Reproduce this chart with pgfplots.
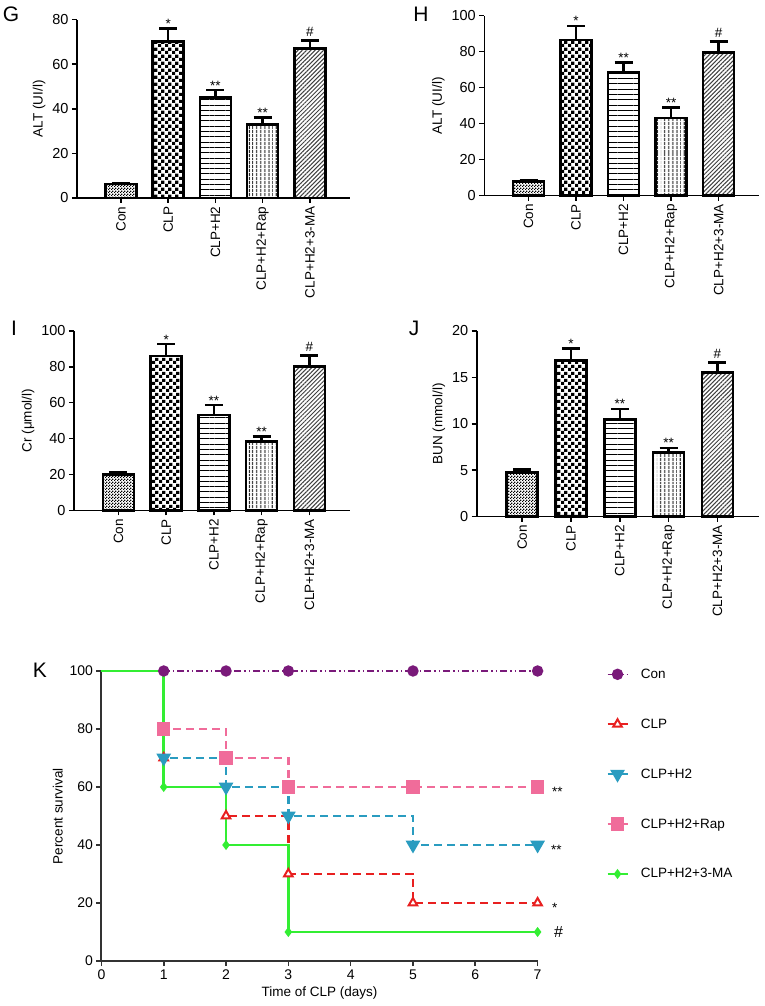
\documentclass[border=0pt]{standalone}
\usepackage{fontspec}
\setmainfont{Liberation Sans}
\usepackage{pgfplots}
\pgfplotsset{compat=1.18}
\usetikzlibrary{patterns,patterns.meta}

\newcommand\fs{\fontsize{13.5}{16}\selectfont}
\newcommand\fn{\fontsize{14.5}{17}\selectfont}

% small and large checkerboards for the bars
\pgfdeclarepatternformonly{finecheck}{\pgfqpoint{0pt}{0pt}}{\pgfqpoint{3pt}{3pt}}{\pgfqpoint{3pt}{3pt}}{%
  \pgfpathrectangle{\pgfqpoint{0pt}{0pt}}{\pgfqpoint{1.5pt}{1.5pt}}%
  \pgfpathrectangle{\pgfqpoint{1.5pt}{1.5pt}}{\pgfqpoint{1.5pt}{1.5pt}}%
  \pgfusepath{fill}}
\pgfdeclarepatternformonly{bigcheck}{\pgfqpoint{0pt}{0pt}}{\pgfqpoint{6.6pt}{6.6pt}}{\pgfqpoint{6.6pt}{6.6pt}}{%
  \pgfpathrectangle{\pgfqpoint{0pt}{0pt}}{\pgfqpoint{3.3pt}{3.3pt}}%
  \pgfpathrectangle{\pgfqpoint{3.3pt}{3.3pt}}{\pgfqpoint{3.3pt}{3.3pt}}%
  \pgfusepath{fill}}

\definecolor{cpurple}{RGB}{122,26,122}
\definecolor{cred}{RGB}{232,32,32}
\definecolor{cteal}{RGB}{42,156,192}
\definecolor{cpink}{RGB}{240,108,154}
\definecolor{cgreen}{RGB}{51,238,51}

\tikzset{sig/.style={font=\fs, anchor=base}}

\pgfplotsset{
  barax/.style={
    scale only axis,
    xmin=-0.93, xmax=4.85, ymin=0,
    axis x line=bottom, axis y line=left,
    axis line style={line width=1.6pt,-},
    tick style={line width=1.6pt,black},
    tick align=outside, major tick length=5pt,
    xtick={0,...,4},
    xticklabels={Con,CLP,CLP+H2,CLP+H2+Rap,CLP+H2+3-MA},
    xticklabel style={rotate=90,anchor=east,font=\fs},
    yticklabel style={font=\fn},
    label style={font=\fs},
    /pgf/number format/assume math mode=true,
    clip=false
  },
  bar/.style={
    ybar, bar width=31pt, bar shift=0pt,
    draw=black, line width=2.6pt,
    error bars/y dir=plus, error bars/y explicit,
    error bars/error bar style={line width=2.6pt,black},
    error bars/error mark options={line width=2.6pt,black,mark size=9pt,rotate=90}
  }
}

\begin{document}
\begin{tikzpicture}[x=1pt,y=1pt]
\useasboundingbox (0,0) rectangle (765,1006);

% panel labels
\node[font=\fontsize{21}{24}\selectfont] at (11,992) {G};
\node[font=\fontsize{21}{24}\selectfont] at (421,992) {H};
\node[font=\fontsize{21}{24}\selectfont] at (14,678) {I};
\node[font=\fontsize{21}{24}\selectfont] at (414,678) {J};
\node[font=\fontsize{21}{24}\selectfont] at (40,336) {K};

% G
\begin{axis}[barax, at={(77pt,808pt)}, anchor=south west,
  width=273pt, height=178.3pt, ymax=80, ytick={0,20,...,80},
  ylabel={ALT (UI/l)}]
\addplot[bar, pattern=finecheck] coordinates {(0,6.3) +- (0,0.5)};
\addplot[bar, pattern=bigcheck] coordinates {(1,70.1) +- (0,6)};
\addplot[bar, pattern={Lines[angle=0,distance=5.3pt,line width=0.9pt]}] coordinates {(2,45.2) +- (0,3.2)};
\addplot[bar, pattern={Lines[angle=90,distance=4pt,line width=1pt]}] coordinates {(3,33.1) +- (0,3)};
\addplot[bar, pattern={Lines[angle=45,distance=3pt,line width=1pt]}, pattern color=black!75] coordinates {(4,67) +- (0,3.6)};
\node[sig] at (axis cs:1,76.1) {*};
\node[sig] at (axis cs:2,48.4) {**};
\node[sig] at (axis cs:3,36.1) {**};
\node[sig, yshift=4pt] at (axis cs:4,70.6) {\#};
\end{axis}

% H
\begin{axis}[barax, at={(484.3pt,810.3pt)}, anchor=south west,
  width=274.7pt, height=180pt, ymax=100, ytick={0,20,...,100},
  ylabel={ALT (UI/l)}]
\addplot[bar, pattern=finecheck] coordinates {(0,8) +- (0,0.5)};
\addplot[bar, pattern=bigcheck] coordinates {(1,86.5) +- (0,7.8)};
\addplot[bar, pattern={Lines[angle=0,distance=5.3pt,line width=0.9pt]}] coordinates {(2,68.3) +- (0,5.7)};
\addplot[bar, pattern={Lines[angle=90,distance=4pt,line width=1pt]}] coordinates {(3,43.1) +- (0,5.8)};
\addplot[bar, pattern={Lines[angle=45,distance=3pt,line width=1pt]}, pattern color=black!75] coordinates {(4,79.4) +- (0,6.3)};
\node[sig] at (axis cs:1,94.3) {*};
\node[sig] at (axis cs:2,74) {**};
\node[sig] at (axis cs:3,48.9) {**};
\node[sig, yshift=4pt] at (axis cs:4,85.7) {\#};
\end{axis}

% I
\begin{axis}[barax, at={(74pt,495.5pt)}, anchor=south west,
  width=276pt, height=179.7pt, ymax=100, ytick={0,20,...,100},
  ylabel={Cr (μmol/l)}]
\addplot[bar, pattern=finecheck] coordinates {(0,20) +- (0,1.3)};
\addplot[bar, pattern=bigcheck] coordinates {(1,86) +- (0,6.6)};
\addplot[bar, pattern={Lines[angle=0,distance=5.3pt,line width=0.9pt]}] coordinates {(2,53.2) +- (0,5.4)};
\addplot[bar, pattern={Lines[angle=90,distance=4pt,line width=1pt]}] coordinates {(3,38.3) +- (0,2.9)};
\addplot[bar, pattern={Lines[angle=45,distance=3pt,line width=1pt]}, pattern color=black!75] coordinates {(4,80) +- (0,6.3)};
\node[sig] at (axis cs:1,92.6) {*};
\node[sig] at (axis cs:2,58.6) {**};
\node[sig] at (axis cs:3,41.2) {**};
\node[sig, yshift=4pt] at (axis cs:4,86.3) {\#};
\end{axis}

% J
\begin{axis}[barax, at={(476.7pt,489.3pt)}, anchor=south west,
  width=282.3pt, height=185.7pt, ymax=20, ytick={0,5,...,20},
  ylabel={BUN (mmol/l)}]
\addplot[bar, pattern=finecheck] coordinates {(0,4.75) +- (0,0.35)};
\addplot[bar, pattern=bigcheck] coordinates {(1,16.8) +- (0,1.3)};
\addplot[bar, pattern={Lines[angle=0,distance=5.3pt,line width=0.9pt]}] coordinates {(2,10.5) +- (0,1.1)};
\addplot[bar, pattern={Lines[angle=90,distance=4pt,line width=1pt]}] coordinates {(3,6.9) +- (0,0.5)};
\addplot[bar, pattern={Lines[angle=45,distance=3pt,line width=1pt]}, pattern color=black!75] coordinates {(4,15.5) +- (0,1.1)};
\node[sig] at (axis cs:1,18.1) {*};
\node[sig] at (axis cs:2,11.6) {**};
\node[sig] at (axis cs:3,7.4) {**};
\node[sig, yshift=4pt] at (axis cs:4,16.6) {\#};
\end{axis}

% K survival
\begin{axis}[at={(101.4pt,45pt)}, anchor=south west, scale only axis,
  width=436.2pt, height=290pt,
  xmin=0, xmax=7, ymin=0, ymax=100,
  xtick={0,...,7}, ytick={0,20,...,100},
  axis x line=bottom, axis y line=left,
  axis line style={line width=2pt,-,black!80},
  tick style={line width=1.6pt,black!80},
  tick align=outside, major tick length=5pt,
  tick label style={font=\fontsize{14}{16}\selectfont}, label style={font=\fs},
  /pgf/number format/assume math mode=true,
  xlabel={Time of CLP (days)}, ylabel={Percent survival},
  clip=false,
  legend style={at={(axis description cs:1.157,1.015)}, anchor=north west,
    draw=none, fill=none, font=\fs, row sep=35pt, inner sep=0pt,
    /tikz/every odd column/.style={column sep=10pt}},
  legend cell align=left,
  legend image code/.code={\draw[#1, mark indices={2}] plot coordinates {(0pt,0pt) (10pt,0pt) (20pt,0pt)};}
]
\addplot[cpurple, line width=1.4pt, dash pattern=on 7pt off 3pt on 1.5pt off 3pt on 1.5pt off 3pt,
  mark=*, mark size=5pt, mark options={solid}, mark indices={2,3,4,5,6}]
  coordinates {(0,100) (1,100) (2,100) (3,100) (5,100) (7,100)};
\addlegendentry{Con}
\addplot[const plot, cred, line width=2.5pt, dash pattern=on 8pt off 5pt,
  mark=triangle*, mark size=5pt, mark options={solid, fill=white, line width=2pt}, mark indices={2,3,4,5,6}]
  coordinates {(0,100) (1,70) (2,50) (3,30) (5,20) (7,20)};
\addlegendentry{CLP}
\addplot[const plot, cteal, line width=2.5pt, dash pattern=on 8pt off 5pt,
  mark=triangle*, mark size=6pt, mark options={solid, rotate=180}, mark indices={2,3,4,5,6}]
  coordinates {(0,100) (1,70) (2,60) (3,50) (5,40) (7,40)};
\addlegendentry{CLP+H2}
\addplot[const plot, cpink, line width=2.5pt, dash pattern=on 8pt off 5pt,
  mark=square*, mark size=5.5pt, mark options={solid}, mark indices={2,3,4,5,6}]
  coordinates {(0,100) (1,80) (2,70) (3,60) (5,60) (7,60)};
\addlegendentry{CLP+H2+Rap}
\addplot[const plot, cgreen, line width=2.5pt,
  mark=diamond*, mark size=3pt, mark options={solid}, mark indices={2,3,4,5}]
  coordinates {(0,100) (1,60) (2,40) (3,10) (7,10)};
\addlegendentry{CLP+H2+3-MA}
\node[font=\fs, anchor=base west, xshift=11pt, yshift=-9.5pt] at (axis cs:7,60) {**};
\node[font=\fs, anchor=base west, xshift=10pt, yshift=-9.5pt] at (axis cs:7,40) {**};
\node[font=\fs, anchor=base west, xshift=11pt, yshift=-9.5pt] at (axis cs:7,20) {*};
\node[font=\fontsize{16}{18}\selectfont, anchor=base west, xshift=13pt, yshift=-6pt] at (axis cs:7,10) {\#};
\end{axis}
\end{tikzpicture}
\end{document}
